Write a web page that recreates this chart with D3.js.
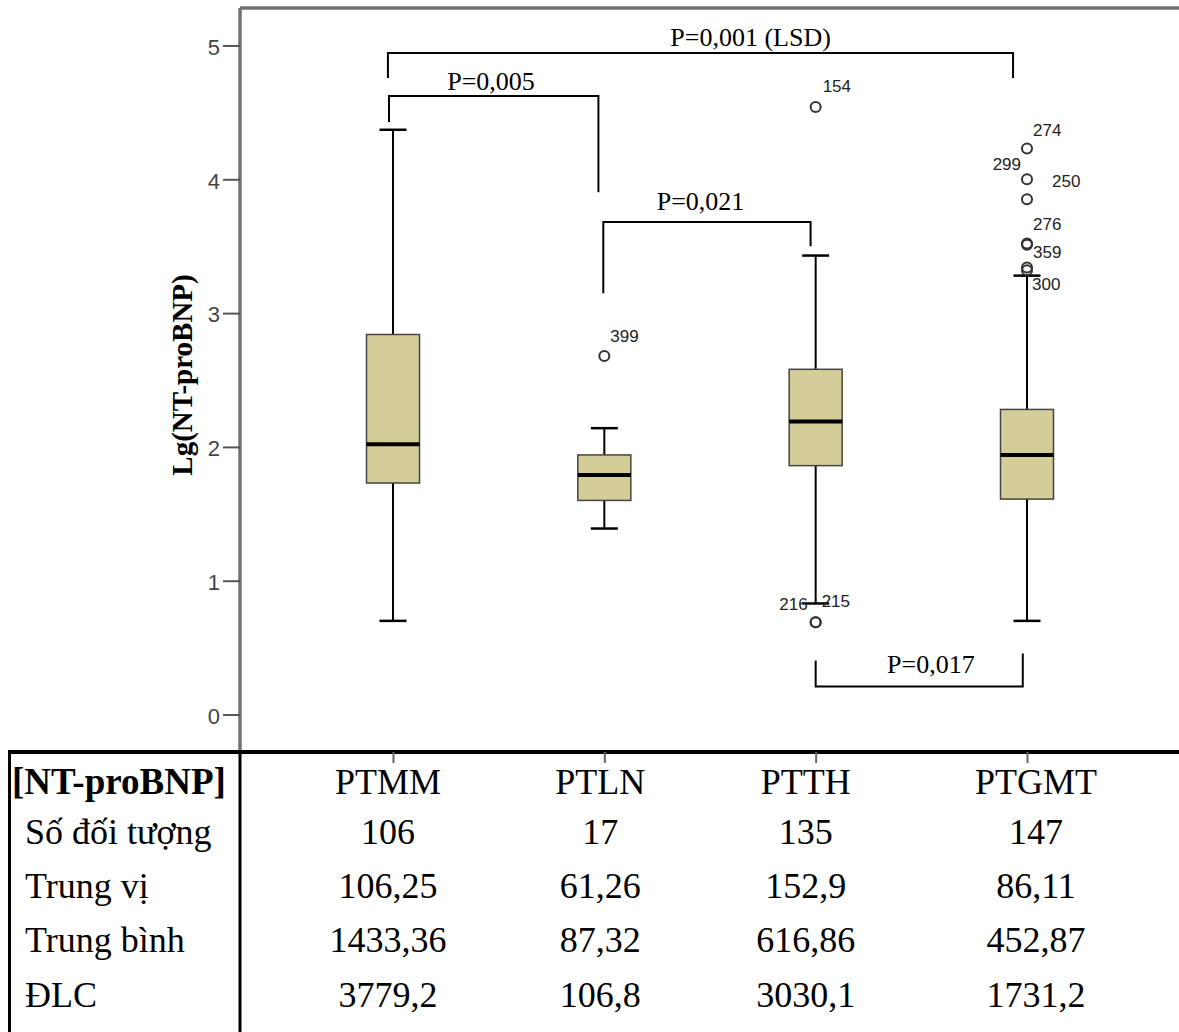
<!DOCTYPE html>
<html>
<head>
<meta charset="utf-8">
<script src="https://cdn.jsdelivr.net/npm/d3@7"></script>
<style>
  html, body { margin: 0; padding: 0; background: #fff; }
  svg { display: block; }
</style>
</head>
<body>
<svg id="chart" width="1179" height="1032"></svg>
<script>
// Groups and box-plot summary of Lg(NT-proBNP)
const categories   = ["PTMM", "PTLN", "PTTH", "PTGMT"];
const whiskerLow   = [0.70, 1.39, 0.83, 0.70];
const quartile1    = [1.73, 1.60, 1.86, 1.61];
const medianValue  = [2.02, 1.79, 2.19, 1.94];
const quartile3    = [2.84, 1.94, 2.58, 2.28];
const whiskerHigh  = [4.37, 2.14, 3.43, 3.28];

// Outlying cases (group, value, case number)
const outlierGroup = ["PTLN", "PTTH", "PTTH", "PTTH", "PTGMT", "PTGMT", "PTGMT", "PTGMT", "PTGMT", "PTGMT", "PTGMT"];
const outlierValue = [2.68, 4.54, 0.69, 0.69, 4.23, 4.00, 3.85, 3.52, 3.51, 3.34, 3.32];
const outlierCase  = ["399", "154", "216", "215", "274", "299", "250", "276", "359", "300", ""];

// Y axis ticks
const yTicks = [0, 1, 2, 3, 4, 5];

// Pairwise comparisons (positions along the group axis, levels in axis units)
const compFrom     = [-0.024, -0.019, 0.995, 2.000];
const compTo       = [2.934, 0.972, 1.976, 2.980];
const compLevel    = [4.944, 4.622, 3.680, 0.209];
const compLegFrom  = [4.757, 4.428, 3.149, 0.404];
const compLegTo    = [4.757, 3.904, 3.500, 0.456];
const compText     = ["P=0,001 (LSD)", "P=0,005", "P=0,021", "P=0,017"];
const compTextPos  = [1.692, 0.464, 1.455, 2.545];
const compTextLvl  = [4.996, 4.667, 3.770, 0.307];

// Summary table
const tableTitle  = "[NT-proBNP]";
const rowLabels   = ["Số đối tượng", "Trung vị", "Trung bình", "ĐLC"];
const countRow    = ["106", "17", "135", "147"];
const medianRow   = ["106,25", "61,26", "152,9", "86,11"];
const meanRow     = ["1433,36", "87,32", "616,86", "452,87"];
const sdRow       = ["3779,2", "106,8", "3030,1", "1731,2"];

const svg = d3.select("#chart");
const W = 1179, H = 1032;
svg.append("rect").attr("width", W).attr("height", H).attr("fill", "#fff");

const plot = { left: 240, top: 8, bottom: 752 };

const y = d3.scaleLinear().domain([-0.28, 5.28]).range([plot.bottom, plot.top]);
const x = d3.scalePoint().domain(categories).range([393, 1027]);
const xi = d3.scaleLinear().domain([0, categories.length - 1]).range(x.range());

const serif = "'Liberation Serif', 'Times New Roman', serif";
const sans = "'Liberation Sans', Arial, sans-serif";

// Frame: top border and y axis
svg.append("line").attr("x1", plot.left).attr("x2", W).attr("y1", plot.top).attr("y2", plot.top)
  .attr("stroke", "#707070").attr("stroke-width", 3.5);

const yAxis = d3.axisLeft(y).tickValues(yTicks).tickSize(17).tickPadding(3).tickFormat(d3.format("d"));
const gy = svg.append("g").attr("transform", `translate(${plot.left},0)`).call(yAxis);
gy.select(".domain").attr("d", `M0,${plot.top}V${plot.bottom}`).attr("stroke", "#707070").attr("stroke-width", 3.5);
gy.selectAll(".tick line").attr("stroke", "#555").attr("stroke-width", 2);
gy.selectAll(".tick text").attr("font-family", sans).attr("font-size", 22).attr("fill", "#444").attr("dy", "0.40em");

// Y axis title
svg.append("text")
  .attr("transform", `translate(192,375) rotate(-90)`)
  .attr("text-anchor", "middle")
  .attr("font-family", serif).attr("font-weight", "bold").attr("font-size", 29)
  .attr("fill", "#000")
  .text("Lg(NT-proBNP)");

// Box plots
const boxW = 53, capW = 27;
const boxes = svg.append("g");
categories.forEach((c, i) => {
  const cx = x(c);
  const g = boxes.append("g");
  // whiskers
  g.append("line").attr("x1", cx).attr("x2", cx).attr("y1", y(quartile3[i])).attr("y2", y(whiskerHigh[i]))
    .attr("stroke", "#000").attr("stroke-width", 2);
  g.append("line").attr("x1", cx).attr("x2", cx).attr("y1", y(quartile1[i])).attr("y2", y(whiskerLow[i]))
    .attr("stroke", "#000").attr("stroke-width", 2);
  [whiskerHigh[i], whiskerLow[i]].forEach(v => {
    g.append("line").attr("x1", cx - capW / 2).attr("x2", cx + capW / 2).attr("y1", y(v)).attr("y2", y(v))
      .attr("stroke", "#000").attr("stroke-width", 2.5);
  });
  // box
  g.append("rect").attr("x", cx - boxW / 2).attr("width", boxW)
    .attr("y", y(quartile3[i])).attr("height", y(quartile1[i]) - y(quartile3[i]))
    .attr("fill", "#d3ce97").attr("stroke", "#444").attr("stroke-width", 1.5);
  // median
  g.append("line").attr("x1", cx - boxW / 2).attr("x2", cx + boxW / 2)
    .attr("y1", y(medianValue[i])).attr("y2", y(medianValue[i]))
    .attr("stroke", "#000").attr("stroke-width", 4);
});

// Outliers and their case labels
const caseLabelPlacement = {
  "399": [6, -14, "start"], "154": [7, -15, "start"],
  "216": [-8, -12, "end"],  "215": [6, -15, "start"],
  "274": [6, -13, "start"], "299": [-6, -9, "end"],
  "250": [25, -12, "start"], "276": [6, -14, "start"],
  "359": [6, 13, "start"],  "300": [5, 22, "start"]
};
const out = svg.append("g");
outlierValue.forEach((v, k) => {
  const cx = x(outlierGroup[k]), cy = y(v);
  out.append("circle").attr("cx", cx).attr("cy", cy).attr("r", 5)
    .attr("fill", "none").attr("stroke", "#333").attr("stroke-width", 2);
  const id = outlierCase[k];
  if (id && caseLabelPlacement[id]) {
    const [dx, dy, anchor] = caseLabelPlacement[id];
    out.append("text").attr("x", cx + dx).attr("y", cy + dy)
      .attr("text-anchor", anchor)
      .attr("font-family", sans).attr("font-size", 17).attr("fill", "#222")
      .text(id);
  }
});

// Comparison brackets
const comps = svg.append("g");
compText.forEach((t, k) => {
  const x1 = xi(compFrom[k]), x2 = xi(compTo[k]), ly = y(compLevel[k]);
  comps.append("path")
    .attr("d", `M${x1},${y(compLegFrom[k])}V${ly}H${x2}V${y(compLegTo[k])}`)
    .attr("fill", "none").attr("stroke", "#000").attr("stroke-width", 2);
  comps.append("text").attr("x", xi(compTextPos[k])).attr("y", y(compTextLvl[k]))
    .attr("text-anchor", "middle")
    .attr("font-family", serif).attr("font-size", 26).attr("fill", "#000")
    .text(t);
});

// Summary table below the plot
const table = svg.append("g");
table.append("line").attr("x1", 8).attr("x2", W).attr("y1", plot.bottom).attr("y2", plot.bottom)
  .attr("stroke", "#000").attr("stroke-width", 4);
table.append("line").attr("x1", 9.5).attr("x2", 9.5).attr("y1", plot.bottom).attr("y2", H)
  .attr("stroke", "#000").attr("stroke-width", 3);
table.append("line").attr("x1", plot.left).attr("x2", plot.left).attr("y1", plot.bottom).attr("y2", H)
  .attr("stroke", "#000").attr("stroke-width", 3);

// group ticks on the category axis
const xAxis = d3.axisBottom(x).tickSize(11).tickFormat("");
const gx = table.append("g").attr("transform", `translate(0,${plot.bottom})`).call(xAxis);
gx.select(".domain").remove();
gx.selectAll(".tick line").attr("stroke", "#666").attr("stroke-width", 2);

const rowBaselines = [794, 844, 898, 952, 1007];
const colShift = [-5, -4, -10, 9];

table.append("text").attr("x", 12).attr("y", rowBaselines[0])
  .attr("font-family", serif).attr("font-weight", "bold").attr("font-size", 37).attr("fill", "#000")
  .text(tableTitle);
rowLabels.forEach((r, i) => {
  table.append("text").attr("x", 25).attr("y", rowBaselines[i + 1])
    .attr("font-family", serif).attr("font-size", 36).attr("fill", "#000").text(r);
});
[categories, countRow, medianRow, meanRow, sdRow].forEach((row, ri) => {
  row.forEach((val, ci) => {
    table.append("text").attr("x", x(categories[ci]) + colShift[ci]).attr("y", rowBaselines[ri])
      .attr("text-anchor", "middle")
      .attr("font-family", serif).attr("font-size", 36).attr("fill", "#000").text(val);
  });
});
</script>
</body>
</html>
